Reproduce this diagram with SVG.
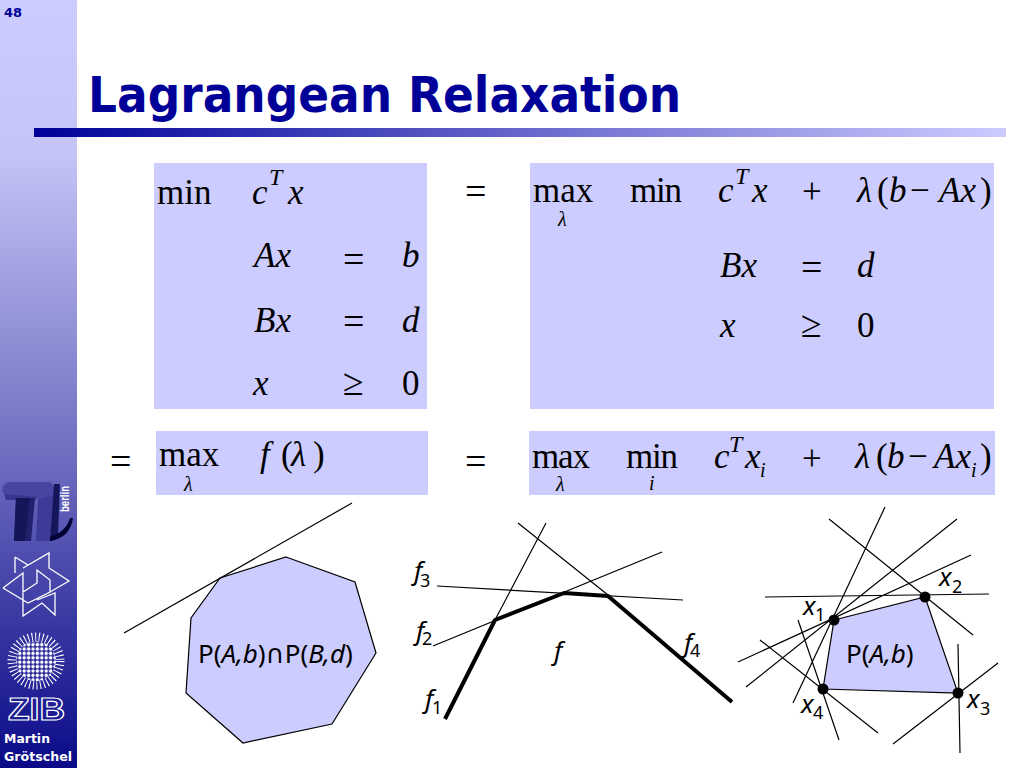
<svg xmlns="http://www.w3.org/2000/svg" width="1024" height="768" viewBox="0 0 1024 768">
<defs>
<linearGradient id="side" x1="0" y1="0" x2="0" y2="1"><stop offset="0" stop-color="#ccccff"/><stop offset="0.2" stop-color="#c4c4f6"/><stop offset="0.6" stop-color="#6c6cc0"/><stop offset="1" stop-color="#0a0a88"/></linearGradient>
<linearGradient id="bar" x1="0" y1="0" x2="1" y2="0"><stop offset="0" stop-color="#000099"/><stop offset="1" stop-color="#ccccff"/></linearGradient>
<pattern id="dots" width="4.4" height="4.4" patternUnits="userSpaceOnUse"><circle cx="2.2" cy="2.2" r="1.7" fill="#fff"/></pattern>
</defs>
<style>
.m{font-family:"Liberation Serif",serif;font-size:35px;fill:#000}
.i{font-style:italic}
.s{font-size:24px}
.u{font-size:20px}
.op{font-size:38px}
.box{fill:#ccccff}
.thin{stroke:#000;stroke-width:1.2;fill:none}
.thick{stroke:#000;stroke-width:4;fill:none;stroke-linejoin:round}
.poly{fill:#ccccff;stroke:#000;stroke-width:1.2}
.l{font-family:"Noto Sans","DejaVu Sans",sans-serif;font-size:26px;fill:#000}
.li{font-style:italic}
.sub{font-size:18px}
.side{font-family:"DejaVu Sans",sans-serif;font-weight:bold;font-size:13px}
.w{fill:none;stroke:#fff;stroke-width:1.3}
.dot{fill:#000}
</style>
<rect width="1024" height="768" fill="#fff"/>
<rect id="sidebar" width="77" height="768" fill="url(#side)"/>
<text x="4" y="17" class="side" fill="#000099" textLength="18" lengthAdjust="spacingAndGlyphs">48</text>
<g id="logo-tu">
<path d="M2 491Q2 482 12 482L48 482Q54 482 54 490L53 498L10 500Z" fill="#4646a0"/>
<path d="M4 494L36 497L36 500L6 500Z" fill="#36368c"/>
<path d="M16 498L35 498L31 541L14 541Z" fill="#20206c"/>
<path d="M16 498L30 498L25 541L14 541Z" fill="#15155a"/>
<path d="M38 499L54 495L50 541L36 541Z" fill="#3c3c98"/>
<path d="M54 484L60 484L58 535L52 541L50 541Z" fill="#15155a"/>
<path d="M50 541Q70 538 73 518L70 518Q66 532 50 537Z" fill="#000033"/>
<text transform="translate(69 512) rotate(-90)" font-family="Liberation Sans, sans-serif" font-weight="bold" font-size="12" fill="#fff" textLength="26" lengthAdjust="spacingAndGlyphs">berlin</text>
</g>
<g id="logo-star">
<path class="w" d="M15 557L28 565M15 557V573M3 588L23 573V592L37 583V570L50 580V592L28 603L3 588M23 568L49 553V568L69 581L50 592M23 593V616L42 603L55 615V593L37 600"/>
</g>
<g id="logo-zib">
<circle cx="36" cy="661" r="24" fill="none" stroke="#fff" stroke-width="9" stroke-dasharray="1 2.6"/>
<circle cx="36" cy="661" r="20" fill="url(#dots)"/>
<text x="8" y="720" font-family="Liberation Sans, sans-serif" font-weight="bold" font-size="31" fill="none" stroke="#fff" stroke-width="1.2" textLength="57" lengthAdjust="spacingAndGlyphs">ZIB</text>
</g>
<text x="4" y="743" class="side" fill="#fff" textLength="46" lengthAdjust="spacingAndGlyphs">Martin</text>
<text x="4" y="761" class="side" fill="#fff" textLength="68" lengthAdjust="spacingAndGlyphs">Grötschel</text>
<text x="88" y="112" font-family="DejaVu Sans, sans-serif" font-weight="bold" font-size="49" fill="#000099" textLength="593" lengthAdjust="spacingAndGlyphs">Lagrangean Relaxation</text>
<rect x="34" y="128" width="972" height="9" fill="url(#bar)"/>

<g id="eq1">
<rect class="box" x="154" y="163" width="273" height="246"/>
<text class="m" x="157" y="204">min</text>
<text class="m i" x="252" y="204">c</text><text class="m i s" x="269" y="185">T</text><text class="m i" x="288" y="204">x</text>
<text class="m i" x="254" y="267">Ax</text><text class="m op" x="343" y="272">=</text><text class="m i" x="402" y="267">b</text>
<text class="m i" x="254" y="332">Bx</text><text class="m op" x="343" y="334">=</text><text class="m i" x="402" y="332">d</text>
<text class="m i" x="253" y="395">x</text><text class="m op" x="343" y="395">≥</text><text class="m" x="402" y="395">0</text>
</g>
<text class="m op" x="465" y="204">=</text>
<g id="eq2">
<rect class="box" x="530" y="163" width="464" height="246"/>
<text class="m" x="533" y="202">max</text><text class="m i u" x="558" y="226">λ</text>
<text class="m" x="630" y="202" textLength="52">min</text>
<text class="m i" x="718" y="202">c</text><text class="m i s" x="735" y="184">T</text><text class="m i" x="752" y="202">x</text>
<text class="m" x="802" y="203">+</text>
<text class="m i" x="857" y="202">λ</text><text class="m" x="877" y="202">(</text><text class="m i" x="889" y="202">b</text><text class="m" x="910" y="202">−</text><text class="m i" x="939" y="202">Ax</text><text class="m" x="980" y="202">)</text>
<text class="m i" x="720" y="277">Bx</text><text class="m op" x="801" y="280">=</text><text class="m i" x="857" y="277">d</text>
<text class="m i" x="720" y="337">x</text><text class="m op" x="801" y="337">≥</text><text class="m" x="857" y="337">0</text>
</g>
<text class="m op" x="110" y="474">=</text>
<g id="eq3">
<rect class="box" x="156" y="431" width="272" height="64"/>
<text class="m" x="159" y="466">max</text><text class="m i u" x="184" y="491">λ</text>
<text class="m i" x="260" y="466">f</text><text class="m" x="281" y="466">(</text><text class="m i" x="291" y="466">λ</text><text class="m" x="313" y="466">)</text>
</g>
<text class="m op" x="465" y="474">=</text>
<g id="eq4">
<rect class="box" x="529" y="431" width="466" height="64"/>
<text class="m" x="532" y="468" textLength="58">max</text><text class="m i u" x="556" y="491">λ</text>
<text class="m" x="626" y="468" textLength="52">min</text><text class="m i u" x="649" y="490">i</text>
<text class="m i" x="714" y="468">c</text><text class="m i s" x="729" y="452">T</text><text class="m i" x="745" y="468">x</text><text class="m i u" x="760" y="477">i</text>
<text class="m" x="802" y="470">+</text>
<text class="m i" x="855" y="468">λ</text><text class="m" x="876" y="468">(</text><text class="m i" x="887" y="468">b</text><text class="m" x="908" y="468">−</text><text class="m i" x="934" y="468">Ax</text><text class="m i u" x="971" y="477">i</text><text class="m" x="980" y="468">)</text>
</g>

<g id="fig-left">
<polygon class="poly" points="286,557 355,582 376,653 332,724 243,743 186,693 191,618 220,578"/>
<line class="thin" x1="124" y1="633" x2="352" y2="503"/>
<text class="l" x="198" y="663">P(<tspan class="li">A,b</tspan>)∩P(<tspan class="li">B,d</tspan>)</text>
</g>

<g id="fig-mid">
<path class="thin" d="M518 523L608 595M546 523L495 620M433 646L662 552M437 586L683 600"/>
<path class="thick" d="M445 719L495 620L564 593L608 596L732 702"/>
<text class="l li" x="414" y="580">f</text><text class="l sub" x="420" y="587">3</text>
<text class="l li" x="416" y="640">f</text><text class="l sub" x="422" y="645">2</text>
<text class="l li" x="425" y="708">f</text><text class="l sub" x="432" y="714">1</text>
<text class="l li" x="684" y="652">f</text><text class="l sub" x="690" y="657">4</text>
<text class="l li" x="554" y="660">f</text>
</g>

<g id="fig-right">
<polygon class="poly" points="834,620 925,597 958,693 823,689"/>
<path class="thin" d="M885 507L793 703M957 519L746 687M971 555L738 662M765 597L989 594M829 519L973 635M958 644L960 753M998 663L893 744M798 620L839 740M760 640L878 733"/>
<circle class="dot" cx="834" cy="620" r="5.5"/><circle class="dot" cx="925" cy="597" r="5.5"/><circle class="dot" cx="958" cy="693" r="5.5"/><circle class="dot" cx="823" cy="689" r="5.5"/>
<text class="l" x="846" y="663">P(<tspan class="li">A,b</tspan>)</text>
<text class="l li" x="803" y="615">x</text><text class="l sub" x="815" y="621">1</text>
<text class="l li" x="939" y="586">x</text><text class="l sub" x="952" y="593">2</text>
<text class="l li" x="967" y="708">x</text><text class="l sub" x="980" y="715">3</text>
<text class="l li" x="801" y="713">x</text><text class="l sub" x="813" y="719">4</text>
</g>
</svg>
